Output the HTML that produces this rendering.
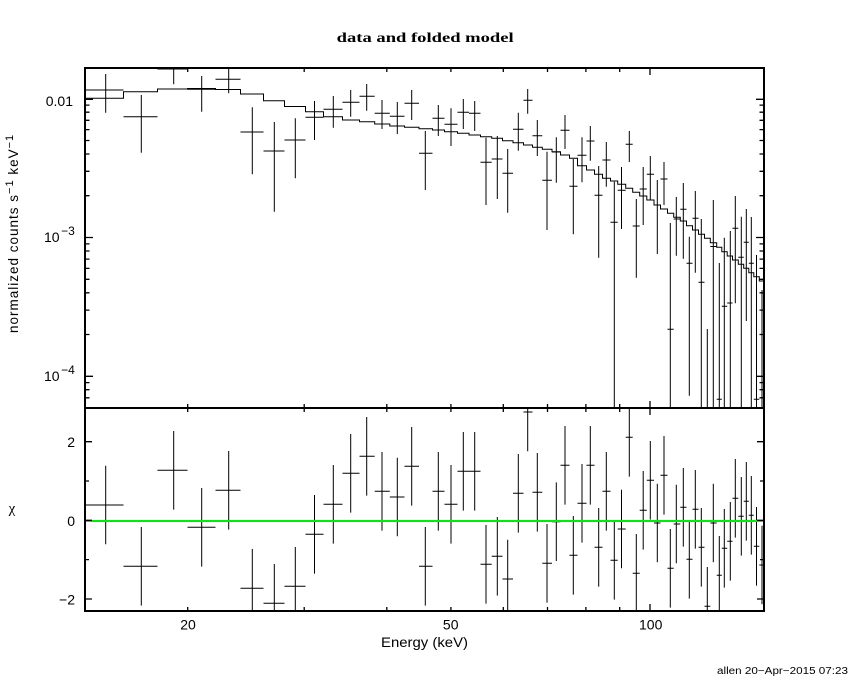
<!DOCTYPE html>
<html><head><meta charset="utf-8"><style>
html,body{margin:0;padding:0;background:#fff;}
svg{display:block;}
text{font-family:"Liberation Sans",sans-serif;fill:#000;}
</style></head><body>
<svg width="850" height="680" viewBox="0 0 850 680" xmlns="http://www.w3.org/2000/svg">
<rect width="850" height="680" fill="#fff"/>
<defs>
<clipPath id="ct"><rect x="85" y="68" width="679" height="340"/></clipPath>
<clipPath id="cb"><rect x="85" y="408" width="679" height="203"/></clipPath>
</defs>

<text x="336.7" y="42" style="font-family:'Liberation Serif',serif" font-size="13.5" font-weight="bold" textLength="177" lengthAdjust="spacingAndGlyphs">data and folded model</text>

<g clip-path="url(#ct)" stroke="#000" stroke-width="1" fill="none">
<path d="M85,98.3H123.5V91.7H157.5V89H187.5V88.5H215.5V89.5H240.5V94H263.5V100.7H284.5V106.5H305.5V111.7H323.5V116.7H342.5V120H359.5V121.7H374.7V124H389.8V126H404.5V127.3H419V128.7H432.5V130H444.5V131.7H457.5V133.3H469V135H480.5V136.7H491.7V138.3H502.5V140.7H513V142.7H523.5V145H532.5V147.3H542.3V149.3H552V151.7H560.5V155H569.5V158.3H577.5V165.7H586.5V170H594.5V174.3H602.5V178.3H610.5V181H617.7V184.3H625.7V188.3H632.7V192.3H639.7V196H646.8V200H654V205H660.5V209H667.5V213.3H673.7V217.3H680.3V221H686.5V225.7H692.5V230H698.5V234.3H704.5V238.3H710.3V242.7H716.7V247.3H721.8V251.7H727.2V256H732.5V260H738.3V264.3H743.7V268.3H748.8V272.7H753.8V276.7H759.3V281H764"/>
<path d="M86,90H123.5M105.7,74V112.7
M123.5,116.7H157.5M141.3,95V152.7
M157.5,69H187.5M173.7,60V84.3
M187.5,89.3H215.5M201.7,76V111.7
M215.5,79.3H240.5M228.7,68.3V93.3
M240.5,132H263.5M252.3,107.3V174.3
M263.5,151H284.5M274.3,122V211.7
M284.5,140H305.5M295.3,118.3V178.3
M305.5,117.3H323.5M314.5,101V140
M323.5,109.3H342.5M333.3,96V127.7
M342.5,102.3H359.5M350.7,90V116.7
M359.5,96.3H374.7M366.7,84V110.7
M374.7,113.3H389.8M382,100V129
M389.8,116.3H404.5M397.3,102V134
M404.5,103.3H419M411.7,90V120
M419,153.3H432.5M425.3,131V190
M432.5,118.3H444.5M438.3,105V136
M444.5,124.3H457.5M451,108.3V146
M457.5,112.3H469M463.3,99V129
M469,113.3H480.5M474.7,101V131
M480.5,162.3H491.7M486,137.7V205
M491.7,159H502.5M497.3,136V199
M502.5,173.3H513M507.7,149V212.7
M513,129.3H523.5M518.3,112.7V150.7
M523.5,100.3H532.5M527.7,89V113.7
M532.5,135.7H542.3M537.3,120V156
M542.3,180.3H552M547,151.7V230
M552,152H560.5M556.3,137.3V182.7
M560.5,130.3H569.5M565,115V149
M569.5,186.3H577.5M573.3,159V234.3
M577.5,155.3H586.5M582,137.3V182.3
M586.5,141H594.5M590.3,126V160.7
M594.5,195.3H602.5M598.7,166V257.7
M602.5,160H610.5M606.3,142V186.7
M610.5,222.3H617.7M614.3,181.7V410
M617.7,190.3H625.7M621.5,167V229
M625.7,144.3H632.7M629.3,131V162
M632.7,226H639.7M636.3,199V277.7
M639.7,189H646.8M643.2,167V225
M646.8,174.3H654M650.3,156V200
M654,205H660.5M657.3,180V254
M660.5,179H667.5M664,162V205
M667.5,329.3H673.7M670.3,223V410
M673.7,219H680.3M676.3,197V255.7
M680.3,209.3H686.5M683.3,183V258.7
M686.5,263.3H692.5M689.3,236.7V395.7
M692.5,218.3H698.5M695.3,191V272.7
M698.5,282.3H704.5M701.3,219V410
M707.3,329V410
M710.3,246.5H716.7M713.3,200V410
M716.7,399.3H721.8M719.3,263V410
M721.8,306.3H727.2M724.3,237.7V410
M727.2,303H732.5M730.3,231V410
M732.5,228.3H738.3M735.3,196V303.3
M738.3,257.3H743.7M741.3,216.7V410
M743.7,242.3H748.8M746.3,209V321
M748.8,263.3H753.8M751.3,217V410
M753.8,399.3H759.3M756.5,255V410
M762,290V410"/>
</g>

<g clip-path="url(#cb)" stroke="#000" stroke-width="1" fill="none">
<path d="M86,505H123.5M105.7,465.7V544.3
M123.5,566.3H157.5M141.3,527V605.6
M157.5,470.3H187.5M173.7,431V509.6
M187.5,527.3H215.5M201.7,488V566.6
M215.5,490.3H240.5M228.7,451V529.6
M240.5,588.3H263.5M252.3,549V627.6
M263.5,603.3H284.5M274.3,564V642.6
M284.5,586.3H305.5M295.3,547V625.6
M305.5,534.3H323.5M314.5,495V573.6
M323.5,504.3H342.5M333.3,465V543.6
M342.5,473.3H359.5M350.7,434V512.6
M359.5,456.3H374.7M366.7,417V495.6
M374.7,491.3H389.8M382,452V530.6
M389.8,497H404.5M397.3,457.7V536.3
M404.5,466.3H419M411.7,427V505.6
M419,566.3H432.5M425.3,527V605.6
M432.5,491.3H444.5M438.3,452V530.6
M444.5,504.3H457.5M451,465V543.6
M457.5,471.3H469M463.3,432V510.6
M469,471.3H480.5M474.7,432V510.6
M480.5,564.3H491.7M486,525V603.6
M491.7,556.3H502.5M497.3,517V595.6
M502.5,579H513M507.7,539.7V618.3
M513,493.3H523.5M518.3,454V532.6
M523.5,412H532.5M527.7,372.7V451.3
M532.5,492.3H542.3M537.3,453V531.6
M542.3,563.3H552M547,524V602.6
M552,521.7H560.5M556.3,482.4V561
M560.5,465.3H569.5M565,426V504.6
M569.5,555.3H577.5M573.3,516V594.6
M577.5,503.3H586.5M582,464V542.6
M586.5,465.3H594.5M590.3,426V504.6
M594.5,547.3H602.5M598.7,508V586.6
M602.5,491.3H610.5M606.3,452V530.6
M610.5,560.3H617.7M614.3,521V599.6
M617.7,529H625.7M621.5,489.7V568.3
M625.7,437.3H632.7M629.3,398V476.6
M632.7,573.3H639.7M636.3,534V612.6
M639.7,510.3H646.8M643.2,471V549.6
M646.8,480.3H654M650.3,441V519.6
M654,523H660.5M657.3,483.7V562.3
M660.5,475.3H667.5M664,436V514.6
M667.5,568.3H673.7M670.3,529V607.6
M673.7,524H680.3M676.3,484.7V563.3
M680.3,507.3H686.5M683.3,468V546.6
M686.5,559.3H692.5M689.3,520V598.6
M692.5,509.3H698.5M695.3,470V548.6
M698.5,547.3H704.5M701.3,508V586.6
M704.5,606.3H710.3M707.3,567V645.6
M710.3,523H716.7M713.3,483.7V562.3
M716.7,575.3H721.8M719.3,536V614.6
M721.8,548.3H727.2M724.3,509V587.6
M727.2,541.3H732.5M730.3,502V580.6
M732.5,498.3H738.3M735.3,459V537.6
M738.3,516.3H743.7M741.3,477V555.6
M743.7,501.3H748.8M746.3,462V540.6
M748.8,515.3H753.8M751.3,476V554.6
M753.8,546.3H759.3M756.5,507V585.6
M759.3,565H764.3M762,525.7V604.3"/>
<line x1="85" y1="521" x2="764" y2="521" stroke="#00ee00" stroke-width="2"/>
</g>

<g stroke="#000" stroke-width="2" fill="none">
<rect x="85" y="68" width="679" height="543"/>
<line x1="85" y1="408" x2="764" y2="408"/>
</g>

<g stroke="#000" stroke-width="1.3" fill="none">
<path d="M85,99.3h8M85,237.5h8M85,376.3h8M764,99.3h-8M764,237.5h-8M764,376.3h-8"/>
<path d="M85,105.1h4.5M85,112.2h4.5M85,120.3h4.5M85,129.6h4.5M85,140.5h4.5M85,154h4.5M85,171.3h4.5M85,195.7h4.5
M85,243.9h4.5M85,251h4.5M85,259.1h4.5M85,268.4h4.5M85,279.3h4.5M85,292.8h4.5M85,310.1h4.5M85,334.5h4.5
M85,382.6h4.5M85,389.7h4.5M85,397.8h4.5
M764,105.1h-4.5M764,112.2h-4.5M764,120.3h-4.5M764,129.6h-4.5M764,140.5h-4.5M764,154h-4.5M764,171.3h-4.5M764,195.7h-4.5
M764,243.9h-4.5M764,251h-4.5M764,259.1h-4.5M764,268.4h-4.5M764,279.3h-4.5M764,292.8h-4.5M764,310.1h-4.5M764,334.5h-4.5
M764,382.6h-4.5M764,389.7h-4.5M764,397.8h-4.5"/>
<path d="M187.7,68v4M304.2,68v4M386.8,68v4M450.9,68v4M503.3,68v4M547.5,68v4M585.9,68v4M619.7,68v4M650,68v7
M187.7,408v-4M304.2,408v-4M386.8,408v-4M450.9,408v-4M503.3,408v-4M547.5,408v-4M585.9,408v-4M619.7,408v-4M650,408v-7
M187.7,408v4M304.2,408v4M386.8,408v4M450.9,408v4M503.3,408v4M547.5,408v4M585.9,408v4M619.7,408v4M650,408v7
M187.7,611v-4M304.2,611v-4M386.8,611v-4M450.9,611v-4M503.3,611v-4M547.5,611v-4M585.9,611v-4M619.7,611v-4M650,611v-7"/>
<path d="M85,441.7h7M85,481h4M85,520.3h7M85,559.6h4M85,599h7
M764,441.7h-7M764,481h-4M764,520.3h-7M764,559.6h-4M764,599h-7"/>
</g>

<text x="73" y="106" font-size="14" text-anchor="end">0.01</text>
<text x="44" y="242" font-size="14">10<tspan dx="1.5" dy="-7" font-size="12">−3</tspan></text>
<text x="44" y="381" font-size="14">10<tspan dx="1.5" dy="-7" font-size="12">−4</tspan></text>
<text x="75" y="447" font-size="14" text-anchor="end">2</text>
<text x="75" y="526" font-size="14" text-anchor="end">0</text>
<text x="75" y="604.5" font-size="14" text-anchor="end">−2</text>

<text transform="translate(18,333) rotate(-90)" font-size="13.5" letter-spacing="1">normalized counts s<tspan dy="-5" font-size="11">−1</tspan><tspan dy="5">  keV</tspan><tspan dy="-5" font-size="11">−1</tspan></text>
<text x="12" y="513" font-size="15" text-anchor="middle" style="font-family:'Liberation Serif',serif">χ</text>

<text x="188" y="629.5" font-size="14" text-anchor="middle">20</text>
<text x="450.7" y="629.5" font-size="14" text-anchor="middle">50</text>
<text x="650.7" y="629.5" font-size="14" text-anchor="middle">100</text>
<text x="381" y="647" font-size="14" textLength="87" lengthAdjust="spacingAndGlyphs">Energy (keV)</text>

<text x="717" y="674" font-size="10" textLength="131" lengthAdjust="spacingAndGlyphs">allen 20−Apr−2015 07:23</text>
</svg>
</body></html>
